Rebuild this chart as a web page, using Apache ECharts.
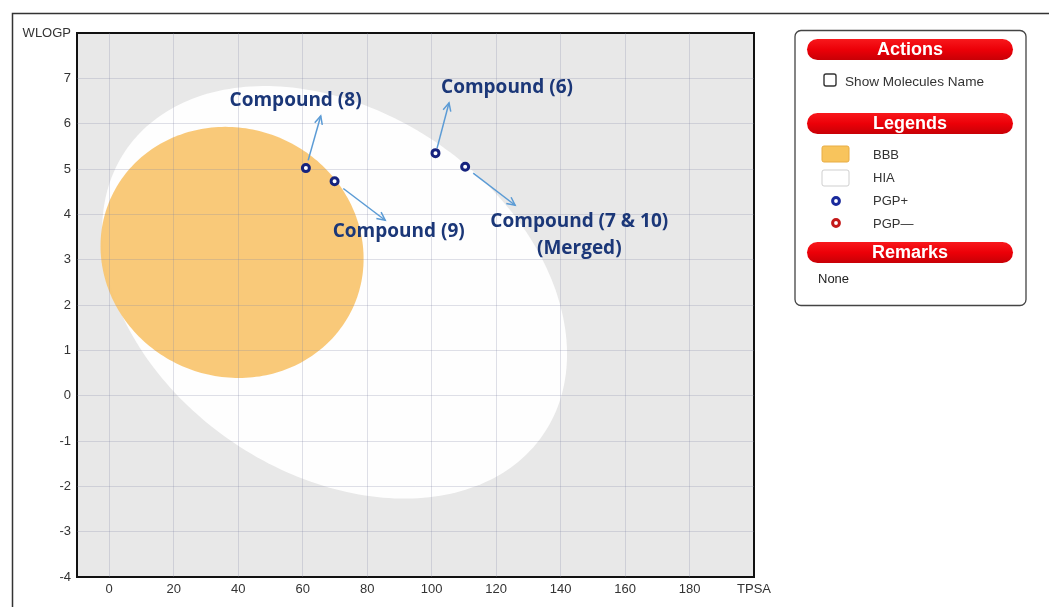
<!DOCTYPE html>
<html>
<head>
<meta charset="utf-8">
<script src="https://cdn.jsdelivr.net/npm/echarts@6/dist/echarts.min.js"></script>
<style>
html,body{margin:0;padding:0;background:#fff;}
#chart{width:1049px;height:607px;}
</style>
</head>
<body>
<div id="chart"></div>
<script>
// ---- data ----
const xTicks = [0, 20, 40, 60, 80, 100, 120, 140, 160, 180];
const xLabelValues = [0, 20, 40, 60, 80, 100, 120, 140, 160, 180, 200];
const xAxisName = 'TPSA';
const yAxisName = 'WLOGP';

// ellipse parameters: [center TPSA, center WLOGP, half-width TPSA, half-height WLOGP, tilt]
const hiaEllipse = [69.9, 2.28, 72.1, 4.55, -0.3];
const bbbEllipse = [38.1, 3.16, 40.8, 2.77, -0.05];

// compounds (PGP+)
const compoundNames = ['Compound (8)', 'Compound (9)', 'Compound (6)', 'Compound (7 & 10)'];
const compoundTPSA = [61.0, 69.9, 101.2, 110.4];
const compoundWLOGP = [5.02, 4.73, 5.35, 5.05];

// annotation labels
const annoText = ['Compound (8)', 'Compound (6)', 'Compound (9)', 'Compound (7 & 10)\n(Merged)'];
const annoTPSA = [57.8, 123.4, 89.8, 145.8];
const annoWLOGP = [6.50, 6.80, 3.61, 3.54];

// arrows: start / end
const arrowFromTPSA = [61.7, 72.6, 101.7, 112.9];
const arrowFromWLOGP = [5.19, 4.57, 5.46, 4.91];
const arrowToTPSA = [65.6, 85.6, 105.4, 125.9];
const arrowToWLOGP = [6.17, 3.87, 6.46, 4.20];

// legend panel
const legendItems = ['BBB', 'HIA', 'PGP+', 'PGP—'];
const panelHeaders = ['Actions', 'Legends', 'Remarks'];
const remarksText = 'None';
const actionText = 'Show Molecules Name';

// ---- chart ----
const chart = echarts.init(document.getElementById('chart'), null, {renderer: 'canvas'});

function ellipseRenderer(fill) {
  return function (params, api) {
    const cx = api.value(0), cy = api.value(1), ex = api.value(2), ey = api.value(3), r = api.value(4);
    const k = Math.sqrt(1 - r * r);
    const pts = [];
    for (let i = 0; i < 240; i++) {
      const t = i / 240 * Math.PI * 2;
      pts.push(api.coord([cx + ex * Math.cos(t), cy + ey * (r * Math.cos(t) + k * Math.sin(t))]));
    }
    return {type: 'polygon', shape: {points: pts}, style: {fill: fill}};
  };
}

const labelFont = 'Liberation Sans, Arial, sans-serif';

const pillX = 807, pillW = 206, pillH = 21;
const pillYs = [39, 113, 242];
const graphics = [];
// outer frame
graphics.push({type: 'rect', left: 10, top: 11, shape: {x: 0, y: 0, width: 1100, height: 700}, style: {fill: null, stroke: '#333', lineWidth: 1.5}, silent: true});
// panel box
graphics.push({type: 'rect', shape: {x: 795, y: 30.5, width: 231, height: 275, r: 6}, style: {fill: '#fff', stroke: '#444', lineWidth: 1.3}});
panelHeaders.forEach(function (h, i) {
  graphics.push({type: 'rect', shape: {x: pillX, y: pillYs[i], width: pillW, height: pillH, r: 10.5},
    style: {fill: new echarts.graphic.LinearGradient(0, 0, 0, 1, [{offset: 0, color: '#f8181c'}, {offset: 0.5, color: '#ec0008'}, {offset: 1, color: '#c80006'}])}});
  graphics.push({type: 'text', style: {x: pillX + pillW / 2, y: pillYs[i] + pillH / 2 + 0.5, text: h, fill: '#fff', font: 'bold 18px ' + labelFont, align: 'center', verticalAlign: 'middle'}});
});
// checkbox
graphics.push({type: 'rect', shape: {x: 824, y: 74, width: 12, height: 12, r: 2}, style: {fill: '#fff', stroke: '#333', lineWidth: 1.4}});
graphics.push({type: 'text', style: {x: 845, y: 82, text: actionText, fill: '#333', font: '13.6px ' + labelFont, align: 'left', verticalAlign: 'middle'}});
// legend swatches
graphics.push({type: 'rect', shape: {x: 822, y: 146, width: 27, height: 16, r: 2}, style: {fill: '#f8c45c', stroke: '#e8ad45', lineWidth: 1}});
graphics.push({type: 'rect', shape: {x: 822, y: 170, width: 27, height: 16, r: 2}, style: {fill: '#fff', stroke: '#cfcfcf', lineWidth: 1}});
graphics.push({type: 'circle', shape: {cx: 836, cy: 201, r: 3.4}, style: {fill: '#fff', stroke: '#1a2a9c', lineWidth: 3}});
graphics.push({type: 'circle', shape: {cx: 836, cy: 223, r: 3.4}, style: {fill: '#fff', stroke: '#c41a1a', lineWidth: 3}});
const legendYs = [155, 178, 201, 224];
legendItems.forEach(function (t, i) {
  graphics.push({type: 'text', style: {x: 873, y: legendYs[i], text: t, fill: '#333', font: '13px ' + labelFont, align: 'left', verticalAlign: 'middle'}});
});
graphics.push({type: 'text', style: {x: 818, y: 279, text: remarksText, fill: '#222', font: '13px ' + labelFont, align: 'left', verticalAlign: 'middle'}});

const option = {
  animation: false,
  backgroundColor: '#fff',
  grid: {left: 77, right: 295, top: 33, bottom: 30, show: true, backgroundColor: '#e8e8e8', borderColor: '#111', borderWidth: 2, containLabel: false},
  xAxis: {
    type: 'value', min: -10, max: 200, z: 5,
    axisLine: {show: false},
    axisTick: {show: false, customValues: xTicks},
    axisLabel: {customValues: xLabelValues, color: '#333', fontSize: 13, fontFamily: labelFont, margin: 6,
      formatter: function (v) { return v === 200 ? xAxisName : String(v); }},
    splitLine: {show: true, lineStyle: {color: 'rgba(130,135,165,0.26)', width: 1}}
  },
  yAxis: {
    type: 'value', min: -4, max: 8, interval: 1, z: 5,
    axisLine: {show: false},
    axisTick: {show: false},
    axisLabel: {color: '#333', fontSize: 13, fontFamily: labelFont, margin: 6,
      formatter: function (v) { return v === 8 ? yAxisName : String(v); }},
    splitLine: {show: true, showMinLine: false, showMaxLine: false, lineStyle: {color: 'rgba(130,135,165,0.26)', width: 1}}
  },
  graphic: graphics,
  series: [
    {type: 'custom', z: 1, clip: true, dimensions: ['x', 'y', 'ex', 'ey', 'r'], encode: {x: 0, y: 1},
      renderItem: ellipseRenderer('#fefefe'), data: [hiaEllipse], silent: true},
    {type: 'custom', z: 2, clip: true, dimensions: ['x', 'y', 'ex', 'ey', 'r'], encode: {x: 0, y: 1},
      renderItem: ellipseRenderer('rgba(249,196,110,0.92)'), data: [bbbEllipse], silent: true},
    {type: 'custom', z: 8, encode: {x: [0, 2], y: [1, 3]},
      data: arrowFromTPSA.map(function (v, i) { return [v, arrowFromWLOGP[i], arrowToTPSA[i], arrowToWLOGP[i]]; }),
      renderItem: function (params, api) {
        const p1 = api.coord([api.value(0), api.value(1)]);
        const p2 = api.coord([api.value(2), api.value(3)]);
        const ang = Math.atan2(p2[1] - p1[1], p2[0] - p1[0]);
        const L = 9, a = 0.45;
        const h1 = [p2[0] - L * Math.cos(ang - a), p2[1] - L * Math.sin(ang - a)];
        const h2 = [p2[0] - L * Math.cos(ang + a), p2[1] - L * Math.sin(ang + a)];
        const st = {stroke: '#5b9bd5', lineWidth: 1.5, fill: null};
        return {type: 'group', children: [
          {type: 'line', shape: {x1: p1[0], y1: p1[1], x2: p2[0], y2: p2[1]}, style: st},
          {type: 'polyline', shape: {points: [h1, p2, h2]}, style: st}
        ]};
      }},
    {type: 'scatter', name: 'PGP+', z: 10, symbol: 'circle', symbolSize: 7,
      itemStyle: {color: '#ffffff', borderWidth: 3, borderColor: '#16237e', opacity: 1},
      data: compoundTPSA.map(function (v, i) { return {name: compoundNames[i], value: [v, compoundWLOGP[i]]}; })},
    {type: 'custom', z: 12, encode: {x: 0, y: 1},
      data: annoTPSA.map(function (v, i) { return [v, annoWLOGP[i]]; }),
      renderItem: function (params, api) {
        const p = api.coord([api.value(0), api.value(1)]);
        return {type: 'text', style: {x: p[0], y: p[1], text: annoText[params.dataIndex], fill: '#1b3778',
          font: 'bold 19px "Open Sans", sans-serif', align: 'center', verticalAlign: 'middle', lineHeight: 27}};
      }}
  ]
};
chart.setOption(option);
</script>
</body>
</html>
